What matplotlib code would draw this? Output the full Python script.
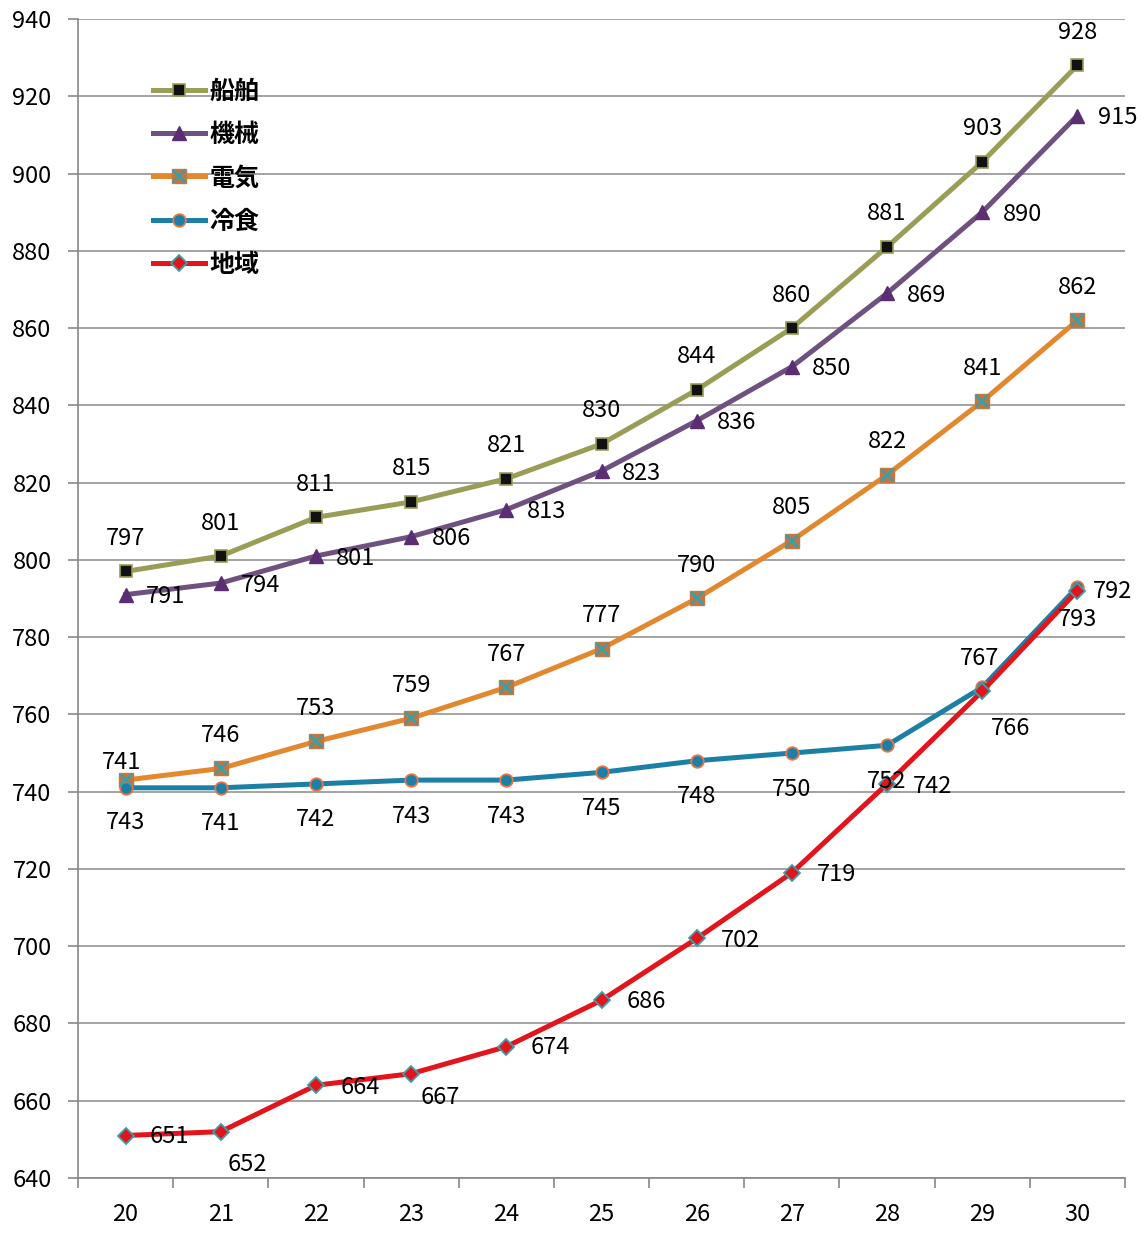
import matplotlib.pyplot as plt
import numpy as np

plt.rcParams['font.family'] = ['Noto Sans CJK JP', 'DejaVu Sans']

# 年度 (x軸)
years = [20, 21, 22, 23, 24, 25, 26, 27, 28, 29, 30]

# 各系列の値
senpaku = [797, 801, 811, 815, 821, 830, 844, 860, 881, 903, 928]   # 船舶
kikai = [791, 794, 801, 806, 813, 823, 836, 850, 869, 890, 915]     # 機械
denki = [743, 746, 753, 759, 767, 777, 790, 805, 822, 841, 862]     # 電気
reishoku = [741, 741, 742, 743, 743, 745, 748, 750, 752, 767, 793]  # 冷食
chiiki = [651, 652, 664, 667, 674, 686, 702, 719, 742, 766, 792]    # 地域

y_ticks = list(range(640, 941, 20))

fig = plt.figure(figsize=(11.48, 12.35), dpi=100)
ax = fig.add_axes([78 / 1148, 57 / 1235, (1125 - 78) / 1148, (1178 - 19) / 1235])

x = np.arange(len(years))
LW = 3.6

# 系列ごとのスタイル
l1, = ax.plot(x, senpaku, '-s', color='#9a9d55', lw=LW, ms=9, mfc='#111111', mec='#9a9d55', mew=1.2, zorder=5)
l2, = ax.plot(x, kikai, '-^', color='#6f5180', lw=LW, ms=10, mfc='#5b2d72', mec='#5b2d72', zorder=5)
l3, = ax.plot(x, denki, '-s', color='#e2892f', lw=LW, ms=10, mfc='#b9774a', mec='#c07a45', zorder=5)
l3x, = ax.plot(x, denki, 'x', color='#2aa5b0', ms=8, mew=1.5, zorder=6)
l4, = ax.plot(x, reishoku, '-o', color='#1c7fa6', lw=LW, ms=9, mfc='#1c7fa6', mec='#e8744a', mew=1.3, zorder=5)
l5, = ax.plot(x, chiiki, '-D', color='#e3141b', lw=LW, ms=8, mfc='#e3141b', mec='#3aa0a8', mew=1.3, zorder=6)

# データラベル (ピクセルのオフセット)
def labels(vals, offs):
    for i, v in enumerate(vals):
        dx, dy = offs[i]
        ax.annotate(str(v), (x[i], v), xytext=(dx, dy), textcoords='offset pixels',
                    ha='center', va='center', fontsize=17, zorder=10)

labels(senpaku, [(0, 33)] * 11)
labels(kikai, [(40, -2)] * 11)
labels(denki, [(0, -42)] + [(0, 33)] * 10)
labels(reishoku, [(-4, 25)] + [(0, -36)] * 8 + [(-3, 29), (0, -33)])
labels(chiiki, [(44, -1), (27, -33), (44, -2), (29, -24), (44, -1), (45, -1),
                (44, -2), (45, -2), (45, -3), (28, -37), (35, -1)])

ax.set_xlim(-0.5, len(years) - 0.5)
ax.set_ylim(640, 940)
ax.set_yticks(y_ticks)
ax.set_yticklabels([str(t) for t in y_ticks], fontsize=17)
ax.set_xticks(x)
ax.set_xticklabels([str(y) for y in years], fontsize=17)
ax.set_xticks(np.arange(-0.5, len(years), 1), minor=True)
ax.tick_params(axis='x', which='major', length=0, pad=18)
ax.tick_params(axis='x', which='minor', length=7, color='#888888', width=1.2)
ax.tick_params(axis='y', length=7, color='#888888', width=1.2, pad=12)

ax.grid(axis='y', color='#8a8a8a', lw=1.1)
ax.set_axisbelow(True)
for s in ['top', 'right']:
    ax.spines[s].set_visible(False)
for s in ['left', 'bottom']:
    ax.spines[s].set_color('#888888')
    ax.spines[s].set_linewidth(1.2)

leg = ax.legend([l1, l2, (l3, l3x), l4, l5], ['船舶', '機械', '電気', '冷食', '地域'],
                loc='upper left', bbox_to_anchor=(0.05, 0.967), frameon=False,
                prop={'size': 18, 'weight': 'bold'}, handlelength=2.1,
                labelspacing=0.77, handletextpad=0.15)

fig.savefig('out.png', dpi=100)
